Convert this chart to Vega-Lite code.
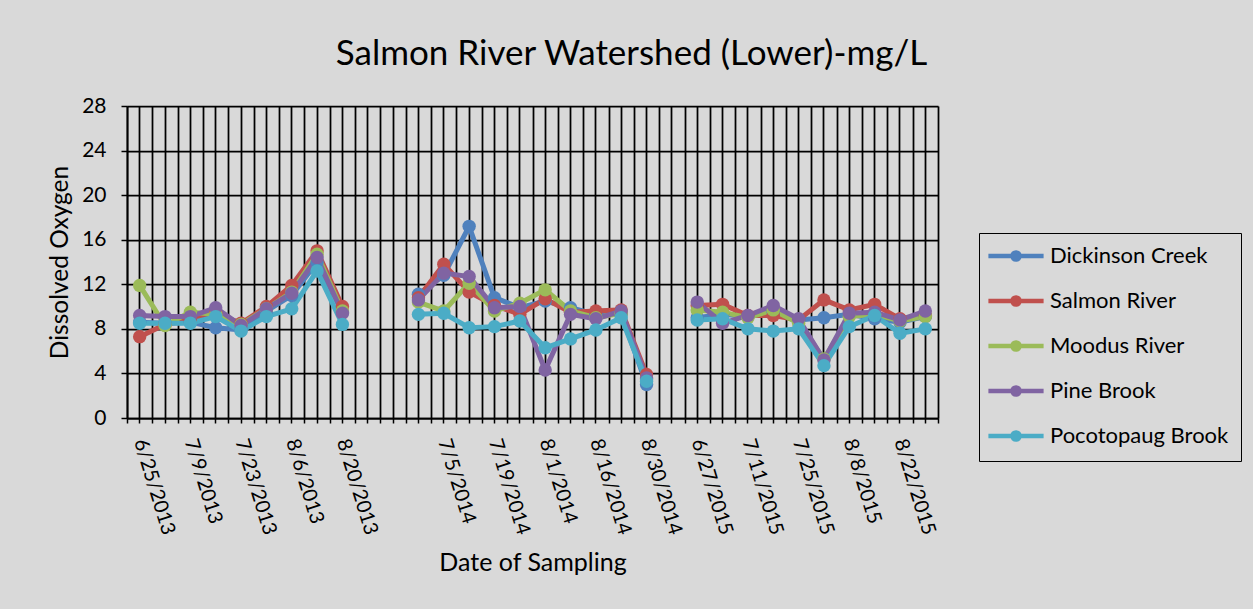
{
  "$schema": "https://vega.github.io/schema/vega-lite/v6.json",
  "width": 811,
  "height": 312,
  "autosize": {"type": "none"},
  "padding": {"left": 127, "top": 106, "right": 315, "bottom": 191},
  "background": "#d9d9d9",
  "config": {
    "view": {"stroke": null},
    "font": "Lato"
  },
  "title": {
    "text": "Salmon River Watershed (Lower)-mg/L",
    "font": "Lato",
    "fontSize": 35,
    "fontWeight": "normal",
    "color": "black",
    "anchor": "middle",
    "frame": "group",
    "dx": 99,
    "offset": 23
  },
  "data": {
    "values": [
      {"Date": "6/25/2013", "Year": 2013, "Station": "Dickinson Creek", "DO": 8.6},
      {"Date": "6/25/2013", "Year": 2013, "Station": "Salmon River", "DO": 7.3},
      {"Date": "6/25/2013", "Year": 2013, "Station": "Moodus River", "DO": 11.9},
      {"Date": "6/25/2013", "Year": 2013, "Station": "Pine Brook", "DO": 9.2},
      {"Date": "6/25/2013", "Year": 2013, "Station": "Pocotopaug Brook", "DO": 8.5},
      {"Date": "7/2/2013", "Year": 2013, "Station": "Dickinson Creek", "DO": 8.5},
      {"Date": "7/2/2013", "Year": 2013, "Station": "Salmon River", "DO": 8.4},
      {"Date": "7/2/2013", "Year": 2013, "Station": "Moodus River", "DO": 8.3},
      {"Date": "7/2/2013", "Year": 2013, "Station": "Pine Brook", "DO": 9.1},
      {"Date": "7/2/2013", "Year": 2013, "Station": "Pocotopaug Brook", "DO": 8.5},
      {"Date": "7/9/2013", "Year": 2013, "Station": "Dickinson Creek", "DO": 8.6},
      {"Date": "7/9/2013", "Year": 2013, "Station": "Salmon River", "DO": 8.8},
      {"Date": "7/9/2013", "Year": 2013, "Station": "Moodus River", "DO": 9.5},
      {"Date": "7/9/2013", "Year": 2013, "Station": "Pine Brook", "DO": 9.1},
      {"Date": "7/9/2013", "Year": 2013, "Station": "Pocotopaug Brook", "DO": 8.5},
      {"Date": "7/16/2013", "Year": 2013, "Station": "Dickinson Creek", "DO": 8.1},
      {"Date": "7/16/2013", "Year": 2013, "Station": "Salmon River", "DO": 9.4},
      {"Date": "7/16/2013", "Year": 2013, "Station": "Moodus River", "DO": 9.3},
      {"Date": "7/16/2013", "Year": 2013, "Station": "Pine Brook", "DO": 9.9},
      {"Date": "7/16/2013", "Year": 2013, "Station": "Pocotopaug Brook", "DO": 9.1},
      {"Date": "7/23/2013", "Year": 2013, "Station": "Dickinson Creek", "DO": 7.9},
      {"Date": "7/23/2013", "Year": 2013, "Station": "Salmon River", "DO": 8.5},
      {"Date": "7/23/2013", "Year": 2013, "Station": "Moodus River", "DO": 8.4},
      {"Date": "7/23/2013", "Year": 2013, "Station": "Pine Brook", "DO": 8.3},
      {"Date": "7/23/2013", "Year": 2013, "Station": "Pocotopaug Brook", "DO": 7.8},
      {"Date": "7/30/2013", "Year": 2013, "Station": "Dickinson Creek", "DO": 9.6},
      {"Date": "7/30/2013", "Year": 2013, "Station": "Salmon River", "DO": 10.0},
      {"Date": "7/30/2013", "Year": 2013, "Station": "Moodus River", "DO": 9.8},
      {"Date": "7/30/2013", "Year": 2013, "Station": "Pine Brook", "DO": 9.8},
      {"Date": "7/30/2013", "Year": 2013, "Station": "Pocotopaug Brook", "DO": 9.1},
      {"Date": "8/6/2013", "Year": 2013, "Station": "Dickinson Creek", "DO": 11.0},
      {"Date": "8/6/2013", "Year": 2013, "Station": "Salmon River", "DO": 11.9},
      {"Date": "8/6/2013", "Year": 2013, "Station": "Moodus River", "DO": 11.3},
      {"Date": "8/6/2013", "Year": 2013, "Station": "Pine Brook", "DO": 11.2},
      {"Date": "8/6/2013", "Year": 2013, "Station": "Pocotopaug Brook", "DO": 9.8},
      {"Date": "8/13/2013", "Year": 2013, "Station": "Dickinson Creek", "DO": 14.0},
      {"Date": "8/13/2013", "Year": 2013, "Station": "Salmon River", "DO": 15.0},
      {"Date": "8/13/2013", "Year": 2013, "Station": "Moodus River", "DO": 14.7},
      {"Date": "8/13/2013", "Year": 2013, "Station": "Pine Brook", "DO": 14.4},
      {"Date": "8/13/2013", "Year": 2013, "Station": "Pocotopaug Brook", "DO": 13.2},
      {"Date": "8/20/2013", "Year": 2013, "Station": "Dickinson Creek", "DO": 9.5},
      {"Date": "8/20/2013", "Year": 2013, "Station": "Salmon River", "DO": 10.0},
      {"Date": "8/20/2013", "Year": 2013, "Station": "Moodus River", "DO": 9.6},
      {"Date": "8/20/2013", "Year": 2013, "Station": "Pine Brook", "DO": 9.4},
      {"Date": "8/20/2013", "Year": 2013, "Station": "Pocotopaug Brook", "DO": 8.4},
      {"Date": "6/28/2014", "Year": 2014, "Station": "Dickinson Creek", "DO": 11.1},
      {"Date": "6/28/2014", "Year": 2014, "Station": "Salmon River", "DO": 10.8},
      {"Date": "6/28/2014", "Year": 2014, "Station": "Moodus River", "DO": 10.4},
      {"Date": "6/28/2014", "Year": 2014, "Station": "Pine Brook", "DO": 10.6},
      {"Date": "6/28/2014", "Year": 2014, "Station": "Pocotopaug Brook", "DO": 9.3},
      {"Date": "7/5/2014", "Year": 2014, "Station": "Dickinson Creek", "DO": 12.8},
      {"Date": "7/5/2014", "Year": 2014, "Station": "Salmon River", "DO": 13.8},
      {"Date": "7/5/2014", "Year": 2014, "Station": "Moodus River", "DO": 9.6},
      {"Date": "7/5/2014", "Year": 2014, "Station": "Pine Brook", "DO": 13.0},
      {"Date": "7/5/2014", "Year": 2014, "Station": "Pocotopaug Brook", "DO": 9.4},
      {"Date": "7/12/2014", "Year": 2014, "Station": "Dickinson Creek", "DO": 17.2},
      {"Date": "7/12/2014", "Year": 2014, "Station": "Salmon River", "DO": 11.3},
      {"Date": "7/12/2014", "Year": 2014, "Station": "Moodus River", "DO": 12.1},
      {"Date": "7/12/2014", "Year": 2014, "Station": "Pine Brook", "DO": 12.7},
      {"Date": "7/12/2014", "Year": 2014, "Station": "Pocotopaug Brook", "DO": 8.1},
      {"Date": "7/19/2014", "Year": 2014, "Station": "Dickinson Creek", "DO": 10.8},
      {"Date": "7/19/2014", "Year": 2014, "Station": "Salmon River", "DO": 10.1},
      {"Date": "7/19/2014", "Year": 2014, "Station": "Moodus River", "DO": 9.6},
      {"Date": "7/19/2014", "Year": 2014, "Station": "Pine Brook", "DO": 9.9},
      {"Date": "7/19/2014", "Year": 2014, "Station": "Pocotopaug Brook", "DO": 8.2},
      {"Date": "7/26/2014", "Year": 2014, "Station": "Dickinson Creek", "DO": 9.9},
      {"Date": "7/26/2014", "Year": 2014, "Station": "Salmon River", "DO": 9.3},
      {"Date": "7/26/2014", "Year": 2014, "Station": "Moodus River", "DO": 10.3},
      {"Date": "7/26/2014", "Year": 2014, "Station": "Pine Brook", "DO": 10.0},
      {"Date": "7/26/2014", "Year": 2014, "Station": "Pocotopaug Brook", "DO": 8.7},
      {"Date": "8/1/2014", "Year": 2014, "Station": "Dickinson Creek", "DO": 10.5},
      {"Date": "8/1/2014", "Year": 2014, "Station": "Salmon River", "DO": 10.7},
      {"Date": "8/1/2014", "Year": 2014, "Station": "Moodus River", "DO": 11.5},
      {"Date": "8/1/2014", "Year": 2014, "Station": "Pine Brook", "DO": 4.3},
      {"Date": "8/1/2014", "Year": 2014, "Station": "Pocotopaug Brook", "DO": 6.3},
      {"Date": "8/9/2014", "Year": 2014, "Station": "Dickinson Creek", "DO": 9.9},
      {"Date": "8/9/2014", "Year": 2014, "Station": "Salmon River", "DO": 9.5},
      {"Date": "8/9/2014", "Year": 2014, "Station": "Moodus River", "DO": 9.6},
      {"Date": "8/9/2014", "Year": 2014, "Station": "Pine Brook", "DO": 9.3},
      {"Date": "8/9/2014", "Year": 2014, "Station": "Pocotopaug Brook", "DO": 7.1},
      {"Date": "8/16/2014", "Year": 2014, "Station": "Dickinson Creek", "DO": 9.3},
      {"Date": "8/16/2014", "Year": 2014, "Station": "Salmon River", "DO": 9.6},
      {"Date": "8/16/2014", "Year": 2014, "Station": "Moodus River", "DO": 9.0},
      {"Date": "8/16/2014", "Year": 2014, "Station": "Pine Brook", "DO": 8.9},
      {"Date": "8/16/2014", "Year": 2014, "Station": "Pocotopaug Brook", "DO": 7.9},
      {"Date": "8/23/2014", "Year": 2014, "Station": "Dickinson Creek", "DO": 9.3},
      {"Date": "8/23/2014", "Year": 2014, "Station": "Salmon River", "DO": 9.7},
      {"Date": "8/23/2014", "Year": 2014, "Station": "Moodus River", "DO": 9.4},
      {"Date": "8/23/2014", "Year": 2014, "Station": "Pine Brook", "DO": 9.6},
      {"Date": "8/23/2014", "Year": 2014, "Station": "Pocotopaug Brook", "DO": 9.0},
      {"Date": "8/30/2014", "Year": 2014, "Station": "Dickinson Creek", "DO": 3.0},
      {"Date": "8/30/2014", "Year": 2014, "Station": "Salmon River", "DO": 3.9},
      {"Date": "8/30/2014", "Year": 2014, "Station": "Moodus River", "DO": 3.5},
      {"Date": "8/30/2014", "Year": 2014, "Station": "Pine Brook", "DO": 3.6},
      {"Date": "8/30/2014", "Year": 2014, "Station": "Pocotopaug Brook", "DO": 3.3},
      {"Date": "6/27/2015", "Year": 2015, "Station": "Dickinson Creek", "DO": 9.0},
      {"Date": "6/27/2015", "Year": 2015, "Station": "Salmon River", "DO": 10.1},
      {"Date": "6/27/2015", "Year": 2015, "Station": "Moodus River", "DO": 9.7},
      {"Date": "6/27/2015", "Year": 2015, "Station": "Pine Brook", "DO": 10.4},
      {"Date": "6/27/2015", "Year": 2015, "Station": "Pocotopaug Brook", "DO": 8.8},
      {"Date": "7/4/2015", "Year": 2015, "Station": "Dickinson Creek", "DO": 9.3},
      {"Date": "7/4/2015", "Year": 2015, "Station": "Salmon River", "DO": 10.2},
      {"Date": "7/4/2015", "Year": 2015, "Station": "Moodus River", "DO": 9.5},
      {"Date": "7/4/2015", "Year": 2015, "Station": "Pine Brook", "DO": 8.5},
      {"Date": "7/4/2015", "Year": 2015, "Station": "Pocotopaug Brook", "DO": 8.9},
      {"Date": "7/11/2015", "Year": 2015, "Station": "Dickinson Creek", "DO": 9.1},
      {"Date": "7/11/2015", "Year": 2015, "Station": "Salmon River", "DO": 9.2},
      {"Date": "7/11/2015", "Year": 2015, "Station": "Moodus River", "DO": 9.0},
      {"Date": "7/11/2015", "Year": 2015, "Station": "Pine Brook", "DO": 9.2},
      {"Date": "7/11/2015", "Year": 2015, "Station": "Pocotopaug Brook", "DO": 8.0},
      {"Date": "7/18/2015", "Year": 2015, "Station": "Dickinson Creek", "DO": 9.5},
      {"Date": "7/18/2015", "Year": 2015, "Station": "Salmon River", "DO": 9.2},
      {"Date": "7/18/2015", "Year": 2015, "Station": "Moodus River", "DO": 9.7},
      {"Date": "7/18/2015", "Year": 2015, "Station": "Pine Brook", "DO": 10.1},
      {"Date": "7/18/2015", "Year": 2015, "Station": "Pocotopaug Brook", "DO": 7.8},
      {"Date": "7/25/2015", "Year": 2015, "Station": "Dickinson Creek", "DO": 8.8},
      {"Date": "7/25/2015", "Year": 2015, "Station": "Salmon River", "DO": 8.8},
      {"Date": "7/25/2015", "Year": 2015, "Station": "Moodus River", "DO": 8.5},
      {"Date": "7/25/2015", "Year": 2015, "Station": "Pine Brook", "DO": 8.9},
      {"Date": "7/25/2015", "Year": 2015, "Station": "Pocotopaug Brook", "DO": 8.0},
      {"Date": "8/1/2015", "Year": 2015, "Station": "Dickinson Creek", "DO": 9.0},
      {"Date": "8/1/2015", "Year": 2015, "Station": "Salmon River", "DO": 10.6},
      {"Date": "8/1/2015", "Year": 2015, "Station": "Moodus River", "DO": 5.3},
      {"Date": "8/1/2015", "Year": 2015, "Station": "Pine Brook", "DO": 5.2},
      {"Date": "8/1/2015", "Year": 2015, "Station": "Pocotopaug Brook", "DO": 4.7},
      {"Date": "8/8/2015", "Year": 2015, "Station": "Dickinson Creek", "DO": 9.3},
      {"Date": "8/8/2015", "Year": 2015, "Station": "Salmon River", "DO": 9.7},
      {"Date": "8/8/2015", "Year": 2015, "Station": "Moodus River", "DO": 9.1},
      {"Date": "8/8/2015", "Year": 2015, "Station": "Pine Brook", "DO": 9.4},
      {"Date": "8/8/2015", "Year": 2015, "Station": "Pocotopaug Brook", "DO": 8.2},
      {"Date": "8/15/2015", "Year": 2015, "Station": "Dickinson Creek", "DO": 8.9},
      {"Date": "8/15/2015", "Year": 2015, "Station": "Salmon River", "DO": 10.2},
      {"Date": "8/15/2015", "Year": 2015, "Station": "Moodus River", "DO": 9.3},
      {"Date": "8/15/2015", "Year": 2015, "Station": "Pine Brook", "DO": 9.5},
      {"Date": "8/15/2015", "Year": 2015, "Station": "Pocotopaug Brook", "DO": 9.2},
      {"Date": "8/22/2015", "Year": 2015, "Station": "Dickinson Creek", "DO": 8.6},
      {"Date": "8/22/2015", "Year": 2015, "Station": "Salmon River", "DO": 8.9},
      {"Date": "8/22/2015", "Year": 2015, "Station": "Moodus River", "DO": 8.7},
      {"Date": "8/22/2015", "Year": 2015, "Station": "Pine Brook", "DO": 8.8},
      {"Date": "8/22/2015", "Year": 2015, "Station": "Pocotopaug Brook", "DO": 7.6},
      {"Date": "8/29/2015", "Year": 2015, "Station": "Dickinson Creek", "DO": 9.1},
      {"Date": "8/29/2015", "Year": 2015, "Station": "Salmon River", "DO": 9.2},
      {"Date": "8/29/2015", "Year": 2015, "Station": "Moodus River", "DO": 9.1},
      {"Date": "8/29/2015", "Year": 2015, "Station": "Pine Brook", "DO": 9.6},
      {"Date": "8/29/2015", "Year": 2015, "Station": "Pocotopaug Brook", "DO": 8.0}
    ]
  },
  "resolve": {"axis": {"x": "independent"}},
  "layer": [
    {
      "mark": {"type": "point", "opacity": 0},
      "encoding": {
        "x": {
          "field": "Date",
          "type": "ordinal",
          "scale": {
            "type": "band",
            "paddingInner": 0,
            "paddingOuter": 0,
            "domain": ["6/25/2013", "7/2/2013", "7/9/2013", "7/16/2013", "7/23/2013", "7/30/2013", "8/6/2013", "8/13/2013", "8/20/2013", " ", "  ", "6/28/2014", "7/5/2014", "7/12/2014", "7/19/2014", "7/26/2014", "8/1/2014", "8/9/2014", "8/16/2014", "8/23/2014", "8/30/2014", "   ", "6/27/2015", "7/4/2015", "7/11/2015", "7/18/2015", "7/25/2015", "8/1/2015", "8/8/2015", "8/15/2015", "8/22/2015", "8/29/2015"]
          },
          "axis": {
            "orient": "bottom",
            "tickBand": "extent",
            "grid": true,
            "gridColor": "black",
            "gridWidth": 1.75,
            "gridOpacity": 1,
            "ticks": true,
            "tickColor": "black",
            "tickWidth": 1.5,
            "tickSize": 5,
            "labels": false,
            "domain": false,
            "title": null
          }
        }
      }
    },
    {
      "mark": {"type": "line", "strokeWidth": 5, "point": {"filled": true, "size": 180, "opacity": 1}},
      "encoding": {
        "x": {
          "field": "Date",
          "type": "ordinal",
          "axis": {
            "orient": "bottom",
            "grid": true,
            "gridColor": "black",
            "gridWidth": 1.75,
            "gridOpacity": 1,
            "domain": true,
            "domainColor": "black",
            "domainWidth": 1.75,
            "ticks": true,
            "tickColor": "black",
            "tickWidth": 1.5,
            "tickSize": 5,
            "labelAngle": 73,
            "labelAlign": "left",
            "labelBaseline": "middle",
            "labelPadding": 16,
            "labelFont": "Lato",
            "labelFontSize": 20,
            "labelColor": "black",
            "labelOverlap": false,
            "labelBound": false,
            "labelExpr": "indexof(['6/25/2013','7/9/2013','7/23/2013','8/6/2013','8/20/2013','7/5/2014','7/19/2014','8/1/2014','8/16/2014','8/30/2014','6/27/2015','7/11/2015','7/25/2015','8/8/2015','8/22/2015'], datum.value) >= 0 ? datum.value : ''",
            "title": "Date of Sampling",
            "titleFont": "Lato",
            "titleFontSize": 25,
            "titleFontWeight": "normal",
            "titleColor": "black",
            "titlePadding": 14
          }
        },
        "y": {
          "field": "DO",
          "type": "quantitative",
          "scale": {"domain": [0, 28], "nice": false, "zero": true},
          "axis": {
            "values": [0, 4, 8, 12, 16, 20, 24, 28],
            "grid": true,
            "gridColor": "black",
            "gridWidth": 1.75,
            "gridOpacity": 1,
            "domain": true,
            "domainColor": "black",
            "domainWidth": 1.75,
            "ticks": true,
            "tickColor": "black",
            "tickWidth": 1.5,
            "tickSize": 6,
            "labelPadding": 15,
            "labelFont": "Lato",
            "labelFontSize": 21,
            "labelColor": "black",
            "title": "Dissolved Oxygen",
            "titleFont": "Lato",
            "titleFontSize": 24.5,
            "titleFontWeight": "normal",
            "titleColor": "black",
            "titlePadding": 9
          }
        },
        "color": {
          "field": "Station",
          "type": "nominal",
          "scale": {
            "domain": ["Dickinson Creek", "Salmon River", "Moodus River", "Pine Brook", "Pocotopaug Brook"],
            "range": ["#4F81BD", "#C0504D", "#9BBB59", "#8064A2", "#4BACC6"]
          },
          "legend": {
            "orient": "none",
            "legendX": 852,
            "legendY": 127,
            "title": null,
            "strokeColor": "black",
            "fillColor": "#d9d9d9",
            "padding": 12,
            "labelFont": "Lato",
            "labelFontSize": 22,
            "labelColor": "black",
            "labelLimit": 400,
            "symbolType": "M-4.6,0H4.6M-0.6,0A0.6,0.6,0,1,0,0.6,0A0.6,0.6,0,1,0,-0.6,0Z",
            "symbolSize": 144,
            "symbolStrokeWidth": 4.5,
            "symbolOffset": 14,
            "labelOffset": 23,
            "rowPadding": 19,
            "encode": {
              "symbols": {
                "update": {
                  "fill": {"scale": "color", "field": "value"},
                  "stroke": {"scale": "color", "field": "value"},
                  "opacity": {"value": 1},
                  "fillOpacity": {"value": 1},
                  "strokeOpacity": {"value": 1}
                }
              }
            }
          }
        },
        "detail": {"field": "Year", "type": "nominal"},
        "order": {"value": null}
      }
    }
  ]
}
